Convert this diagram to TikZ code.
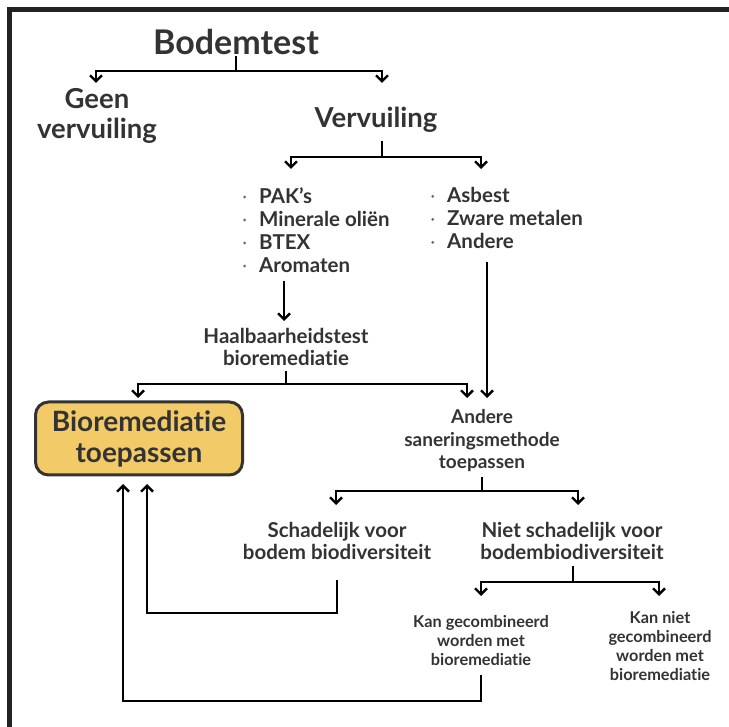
\documentclass[tikz,border=0pt]{standalone}
\usepackage{fontspec}
\setmainfont[Ligatures=NoCommon]{Lato}
\usetikzlibrary{arrows.meta}
\definecolor{ink}{HTML}{333333}
\definecolor{gold}{HTML}{F2CA68}
\definecolor{frame}{HTML}{222222}
\tikzset{
  link/.style={line width=2.7pt, black},
  arr/.style={link, -{Straight Barb[length=6pt, width=12pt, line width=2.4pt]}},
  lbl/.style={inner sep=0pt, text=ink, align=center, font=\bfseries},
  title/.style={lbl, font=\fontsize{34}{34}\selectfont\bfseries},
  big/.style={lbl, font=\fontsize{27.5}{30}\selectfont\bfseries},
  mid/.style={lbl, font=\fontsize{20.5}{22.5}\selectfont\bfseries},
  midsmall/.style={lbl, font=\fontsize{19}{22.5}\selectfont\bfseries},
  small/.style={lbl, font=\fontsize{16.3}{19}\selectfont\bfseries},
  listbox/.style={lbl, align=left, font=\fontsize{20.5}{23}\selectfont\bfseries},
  goal/.style={lbl, draw=ink, line width=3pt, fill=gold, rounded corners=13pt,
    minimum width=207pt, minimum height=73pt, font=\fontsize{28}{31}\selectfont\bfseries},
}
% list item: small dot at mid x-height followed by the text
\newcommand{\itm}{\makebox[16pt][l]{\tikz[baseline=-6pt]\fill[ink!75] (0,0) circle (1.5pt);}}
\begin{document}
\begin{tikzpicture}[x=1pt, y=-1pt]
\useasboundingbox (0,0) rectangle (729,727);
% outer frame (top and left edges)
\draw[frame, line width=5pt] (729,9.5) -- (9.5,9.5) -- (9.5,727);

% nodes
\node[title] (bodem) at (236,42) {Bodemtest};
\node[big] (geen) at (97,116) {Geen\\vervuiling};
\node[big] (vervuiling) at (376,120) {Vervuiling};
\node[listbox, anchor=north west] (lijstA) at (243,187) {\itm PAK’s\\\itm Minerale oliën\\\itm BTEX\\\itm Aromaten};
\node[listbox, anchor=north west] (lijstB) at (431,187) {\itm Asbest\\\itm Zware metalen\\\itm Andere};
\node[mid] (haalbaar) at (286,347) {Haalbaarheidstest\\bioremediatie};
\node[goal] (bio) at (139,438.5) {Bioremediatie\\toepassen};
\node[midsmall] (andere) at (482,441) {Andere\\saneringsmethode\\toepassen};
\node[mid] (schadelijk) at (337,541) {Schadelijk voor\\bodem biodiversiteit};
\node[mid] (niet) at (572,541) {Niet schadelijk voor\\bodembiodiversiteit};
\node[small] (komb) at (481,641) {Kan gecombineerd\\worden met\\bioremediatie};
\node[small] (nietkomb) at (660,646) {Kan niet\\gecombineerd\\worden met\\bioremediatie};

% branch points
\coordinate (j1) at (236,71);
\coordinate (j2) at (382,157);
\coordinate (j3) at (286,384);
\coordinate (j4) at (482,491);
\coordinate (j5) at (573,582);

% connectors
\draw[link] (236,56) -- (j1);
\draw[arr] (j1) -| (96,83);
\draw[arr] (j1) -| (382,83);
\draw[link] (382,141) -- (j2);
\draw[arr] (j2) -| (291,169);
\draw[arr] (j2) -| (481,169);
\draw[arr] (284,281) -- (284,321);
\draw[link] (286,371) -- (j3);
\draw[arr] (j3) -| (138,398);
\draw[arr] (j3) -| (467,398);
\draw[arr] (487,262) -- (487,398);
\draw[link] (482,477) -- (j4);
\draw[arr] (j4) -| (336,505);
\draw[arr] (j4) -| (578,505);
\draw[link] (573,566) -- (j5);
\draw[arr] (j5) -| (481,596);
\draw[arr] (j5) -| (659,596);

% feedback to bioremediation
\draw[arr] (337,580) -- (337,613) -- (147,613) -- (147,484);
\draw[arr] (481,675) -- (481,701) -- (123,701) -- (123,484);
\end{tikzpicture}
\end{document}
